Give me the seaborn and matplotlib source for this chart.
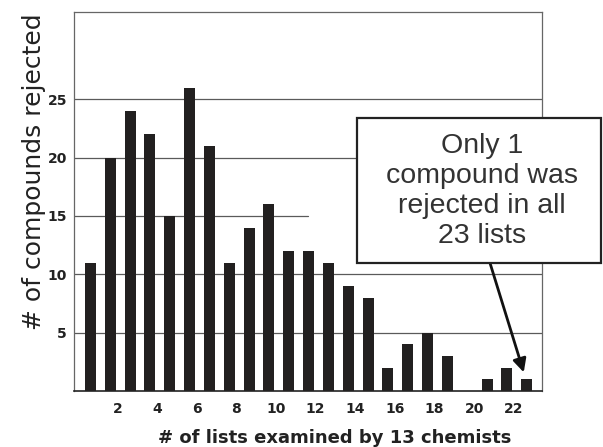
import numpy as np
import matplotlib
matplotlib.use("Agg")
import matplotlib.pyplot as plt
import matplotlib.transforms as mtransforms
from matplotlib.patches import Rectangle
import seaborn as sns

# ---- data ----
lists = list(range(1, 24))
rejected = [11, 20, 24, 22, 15, 26, 21, 11, 14, 16, 12, 12, 11, 9, 8, 2, 4, 5, 3, 0, 1, 2, 1]
x_ticks = list(range(2, 23, 2))
y_ticks = [5, 10, 15, 20, 25]
note = "Only 1\ncompound was\nrejected in all\n23 lists"

sns.set_theme(style="white")
plt.rcParams['font.family'] = ['DejaVu Sans']

fig = plt.figure(figsize=(6.03, 4.47), dpi=100)
ax = fig.add_axes([74 / 603, 1 - 391 / 447, 468 / 603, (391 - 11.7) / 447])

# grid lines (15 line stops half way in the original)
for yv in y_ticks:
    xmax = 0.5 if yv == 15 else 1.0
    ax.axhline(yv, xmax=xmax, color="#5a5a5a", lw=0.9, zorder=0)

sns.barplot(x=lists, y=rejected, native_scale=True, width=0.55,
            color="#222020", saturation=1, edgecolor="none", ax=ax, zorder=2)

ax.set_xlim(0.17, 23.77)
ax.set_ylim(0, 32.5)
ax.set_xticks(x_ticks)
ax.set_xticklabels([str(t) for t in x_ticks])
ax.set_yticks(y_ticks)
ax.set_yticklabels([str(t) for t in y_ticks])
ax.set_xlabel("")
ax.set_ylabel("")

ax.tick_params(axis="x", direction="out", length=3, width=0.8, color="#555555",
               pad=5, labelsize=10, labelcolor="#222222")
ax.tick_params(axis="y", direction="out", length=3, width=0.8, color="#555555",
               pad=2, labelsize=10, labelcolor="#222222")
for lab in ax.get_xticklabels() + ax.get_yticklabels():
    lab.set_fontweight("bold")
shift = mtransforms.ScaledTranslation(7 / 100, 0, fig.dpi_scale_trans)
for lab in ax.get_xticklabels():
    lab.set_transform(lab.get_transform() + shift)

for side in ["top", "right", "left"]:
    ax.spines[side].set_color("#666666")
    ax.spines[side].set_linewidth(0.9)
ax.spines["bottom"].set_color("#222222")
ax.spines["bottom"].set_linewidth(1.2)

# axis labels
fig.text(34 / 603, 1 - 172 / 447, "# of compounds rejected", rotation=90,
         ha="center", va="center", fontsize=18, color="#222222")
fig.text(335 / 603, 1 - 438 / 447, "# of lists examined by 13 chemists",
         ha="center", va="center", fontsize=13, fontweight="bold", color="#222222")

# callout box
fig.patches.append(Rectangle((357 / 603, 1 - 263 / 447), 244 / 603, 145 / 447,
                             transform=fig.transFigure, facecolor="white",
                             edgecolor="#222222", lw=1.6, zorder=5))
fig.text(482 / 603, 1 - 191 / 447, note, ha="center", va="center",
         fontsize=20.5, family=["Liberation Sans", "DejaVu Sans"],
         color="#333333", linespacing=1.2, zorder=6)
ax.annotate("", xy=(lists[-1] - 0.15, rejected[-1] + 0.6), xycoords="data",
            xytext=(490 / 603, 1 - 263 / 447), textcoords="figure fraction",
            arrowprops=dict(arrowstyle="-|>", color="#111111", lw=2,
                            mutation_scale=20, shrinkA=0, shrinkB=0),
            zorder=4, annotation_clip=False)

fig.savefig("out.png", dpi=100)
